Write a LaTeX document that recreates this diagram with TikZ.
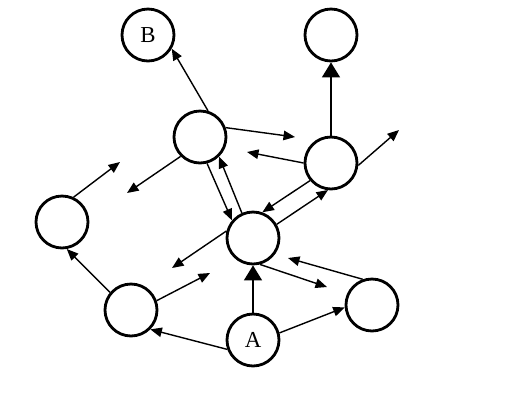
\documentclass[tikz,border=0pt]{standalone}
\usepackage{fontspec}
\setmainfont{Liberation Serif}
\usepackage{tikz}
\usetikzlibrary{arrows.meta, positioning, calc}

\tikzset{
    state/.style={draw, circle, line width=1.6pt, minimum size=1.04cm, inner sep=0pt, font=\fontsize{13}{13}\selectfont},
    link/.style={line width=0.8pt, -{Triangle[length=0.23cm, width=0.19cm]}},
    biglink/.style={line width=0.8pt, -{Triangle[length=0.3cm, width=0.36cm]}}
}

\begin{document}
\begin{tikzpicture}[x=0.02cm, y=-0.02cm]
    \useasboundingbox (0,0) rectangle (525,407);

    % states
    \node[state] (nb) at (148,35) {B};
    \node[state] (nt) at (331,35) {};
    \node[state] (nu) at (200,137) {};
    \node[state] (nv) at (331,163) {};
    \node[state] (nc) at (253,238) {};
    \node[state] (nl) at (62,222) {};
    \node[state] (nm) at (131,310) {};
    \node[state] (na) at (253,340) {A};
    \node[state] (nr) at (372,305) {};

    % free arrow ends
    \coordinate (t1) at (295,137);
    \coordinate (t2) at (247,152);
    \coordinate (t3) at (399,130);
    \coordinate (t4) at (127,193);
    \coordinate (t5) at (120,162);
    \coordinate (t6) at (328,190);
    \coordinate (t7) at (172,268);
    \coordinate (t8) at (210,273);
    \coordinate (t9) at (327,287);
    \coordinate (t10) at (288,258);

    % connectors
    \draw[link] (nu.73) -- (nb.-30);
    \draw[biglink] (nv.north) -- (nt.south);
    \draw[link] (nu.20) -- (t1);
    \draw[link] (nv.180) -- (t2);
    \draw[link] (nv.-5) -- (t3);
    \draw[link] (nu.225) -- (t4);
    \draw[link] (nl.65) -- (t5);
    \draw[link] (nu.-75) -- (nc.140);
    \draw[link] (nc.114) -- (nu.-46);
    \draw[link] (nv.220) -- (nc.70);
    \draw[link] (nc.30) -- (t6);
    \draw[link] (nc.165) -- (t7);
    \draw[link] (nm.20) -- (t8);
    \draw[link] (nm.140) -- (nl.-80);
    \draw[link] (na.200) -- (nm.-45);
    \draw[biglink] (na.north) -- (nc.south);
    \draw[link] (nc.-75) -- (t9);
    \draw[link] (nr.110) -- (t10);
    \draw[link] (na.15) -- (nr.185);
\end{tikzpicture}
\end{document}
